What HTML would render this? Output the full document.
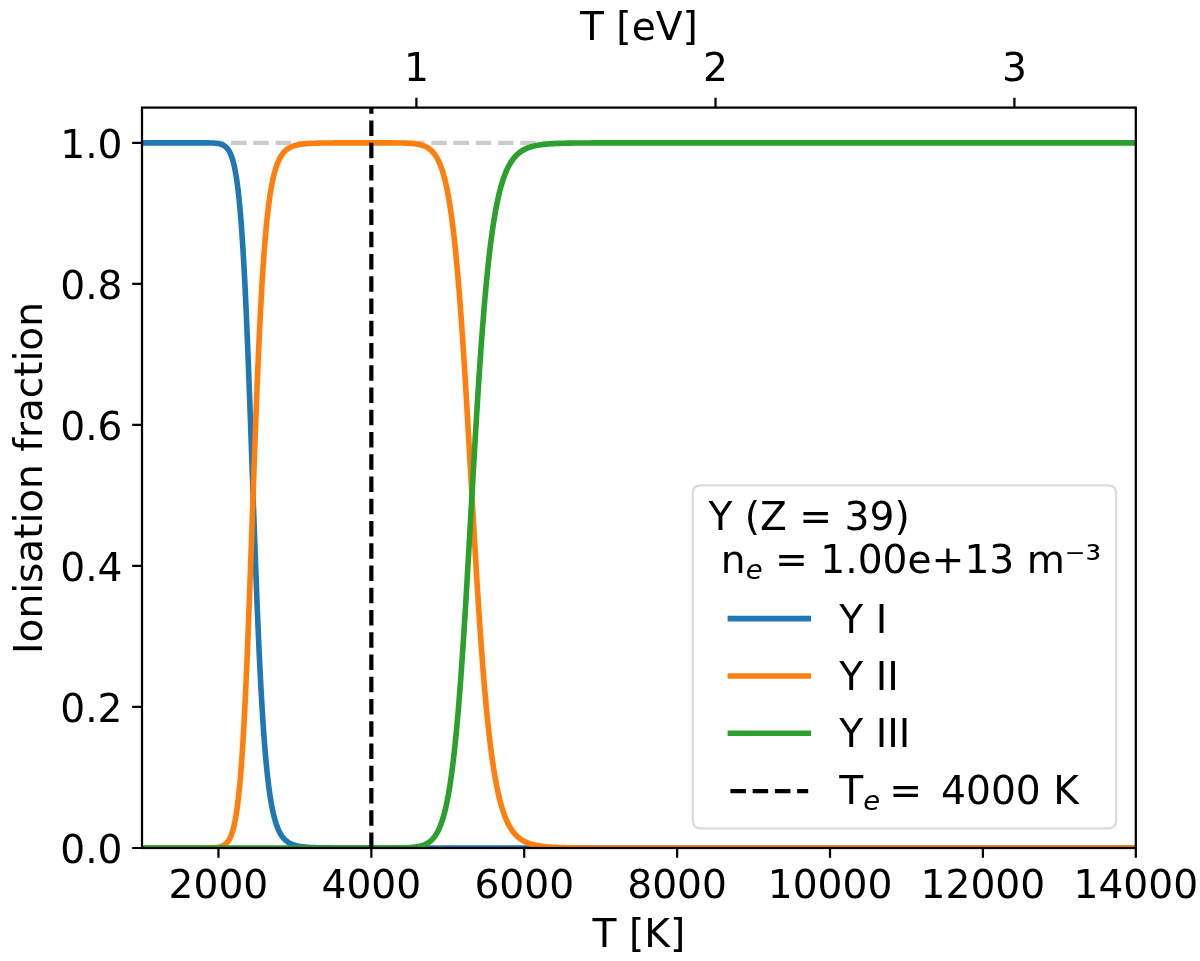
<!DOCTYPE html>
<html lang="en"><head><meta charset="utf-8"><title>Ionisation fraction of Y</title>
<style>html,body{margin:0;padding:0;background:#fff;}svg{display:block;}text{font-family:'DejaVu Sans','Liberation Sans',sans-serif;fill:#000;}</style></head><body>
<svg width="1200" height="961" viewBox="0 0 1200 961">
<rect width="1200" height="961" fill="#fff"/>
<defs><clipPath id="ax"><rect x="142.00" y="107.60" width="993.80" height="740.40"/></clipPath></defs>
<g clip-path="url(#ax)" fill="none" stroke-linejoin="round">
<path d="M142.00,142.86 L1135.80,142.86" stroke="#cbcbcb" stroke-width="4.20" stroke-dasharray="15.53 6.72"/>
<path d="M142.00,142.86 L142.38,142.86 L142.76,142.86 L143.15,142.86 L143.53,142.86 L143.91,142.86 L144.29,142.86 L144.68,142.86 L145.06,142.86 L145.44,142.86 L145.82,142.86 L146.20,142.86 L146.59,142.86 L146.97,142.86 L147.35,142.86 L147.73,142.86 L148.12,142.86 L148.50,142.86 L148.88,142.86 L149.26,142.86 L149.64,142.86 L150.03,142.86 L150.41,142.86 L150.79,142.86 L151.17,142.86 L151.56,142.86 L151.94,142.86 L152.32,142.86 L152.70,142.86 L153.08,142.86 L153.47,142.86 L153.85,142.86 L154.23,142.86 L154.61,142.86 L155.00,142.86 L155.38,142.86 L155.76,142.86 L156.14,142.86 L156.52,142.86 L156.91,142.86 L157.29,142.86 L157.67,142.86 L158.05,142.86 L158.44,142.86 L158.82,142.86 L159.20,142.86 L159.58,142.86 L159.96,142.86 L160.35,142.86 L160.73,142.86 L161.11,142.86 L161.49,142.86 L161.88,142.86 L162.26,142.86 L162.64,142.86 L163.02,142.86 L163.40,142.86 L163.79,142.86 L164.17,142.86 L164.55,142.86 L164.93,142.86 L165.32,142.86 L165.70,142.86 L166.08,142.86 L166.46,142.86 L166.84,142.86 L167.23,142.86 L167.61,142.86 L167.99,142.86 L168.37,142.86 L168.76,142.86 L169.14,142.86 L169.52,142.86 L169.90,142.86 L170.29,142.86 L170.67,142.86 L171.05,142.86 L171.43,142.86 L171.81,142.86 L172.20,142.86 L172.58,142.86 L172.96,142.86 L173.34,142.86 L173.73,142.86 L174.11,142.86 L174.49,142.86 L174.87,142.86 L175.25,142.86 L175.64,142.86 L176.02,142.86 L176.40,142.86 L176.78,142.86 L177.17,142.86 L177.55,142.86 L177.93,142.86 L178.31,142.86 L178.69,142.86 L179.08,142.86 L179.46,142.86 L179.84,142.86 L180.22,142.86 L180.61,142.86 L180.99,142.86 L181.37,142.86 L181.75,142.86 L182.13,142.86 L182.52,142.86 L182.90,142.86 L183.28,142.86 L183.66,142.86 L184.05,142.86 L184.43,142.86 L184.81,142.86 L185.19,142.86 L185.57,142.86 L185.96,142.86 L186.34,142.86 L186.72,142.86 L187.10,142.86 L187.49,142.86 L187.87,142.86 L188.25,142.86 L188.63,142.86 L189.01,142.86 L189.40,142.86 L189.78,142.86 L190.16,142.86 L190.54,142.86 L190.93,142.86 L191.31,142.86 L191.69,142.86 L192.07,142.86 L192.45,142.86 L192.84,142.86 L193.22,142.86 L193.60,142.86 L193.98,142.86 L194.37,142.86 L194.75,142.86 L195.13,142.86 L195.51,142.86 L195.89,142.86 L196.28,142.86 L196.66,142.86 L197.04,142.86 L197.42,142.86 L197.81,142.86 L198.19,142.86 L198.57,142.86 L198.95,142.86 L199.33,142.86 L199.72,142.86 L200.10,142.86 L200.48,142.86 L200.86,142.86 L201.25,142.86 L201.63,142.87 L202.01,142.87 L202.39,142.87 L202.77,142.87 L203.16,142.87 L203.54,142.87 L203.92,142.87 L204.30,142.87 L204.69,142.88 L205.07,142.88 L205.45,142.88 L205.83,142.88 L206.21,142.89 L206.60,142.89 L206.98,142.90 L207.36,142.90 L207.74,142.90 L208.13,142.91 L208.51,142.92 L208.89,142.92 L209.27,142.93 L209.65,142.94 L210.04,142.95 L210.42,142.95 L210.80,142.97 L211.18,142.98 L211.57,142.99 L211.95,143.00 L212.33,143.02 L212.71,143.04 L213.09,143.05 L213.48,143.08 L213.86,143.10 L214.24,143.12 L214.62,143.15 L215.01,143.18 L215.39,143.21 L215.77,143.25 L216.15,143.29 L216.53,143.33 L216.92,143.38 L217.30,143.43 L217.68,143.48 L218.06,143.54 L218.45,143.61 L218.83,143.68 L219.21,143.76 L219.59,143.85 L219.98,143.94 L220.36,144.04 L220.74,144.15 L221.12,144.27 L221.50,144.41 L221.89,144.55 L222.27,144.70 L222.65,144.87 L223.03,145.06 L223.42,145.26 L223.80,145.47 L224.18,145.70 L224.56,145.96 L224.94,146.23 L225.33,146.53 L225.71,146.85 L226.09,147.20 L226.47,147.58 L226.86,147.98 L227.24,148.42 L227.62,148.90 L228.00,149.41 L228.38,149.96 L228.77,150.55 L229.15,151.20 L229.53,151.89 L229.91,152.63 L230.30,153.43 L230.68,154.29 L231.06,155.22 L231.44,156.21 L231.82,157.28 L232.21,158.43 L232.59,159.65 L232.97,160.97 L233.35,162.38 L233.74,163.89 L234.12,165.51 L234.50,167.24 L234.88,169.08 L235.26,171.05 L235.65,173.15 L236.03,175.40 L236.41,177.78 L236.79,180.33 L237.18,183.03 L237.56,185.90 L237.94,188.95 L238.32,192.19 L238.70,195.62 L239.09,199.25 L239.47,203.09 L239.85,207.15 L240.23,211.44 L240.62,215.95 L241.00,220.71 L241.38,225.72 L241.76,230.97 L242.14,236.49 L242.53,242.28 L242.91,248.33 L243.29,254.65 L243.67,261.25 L244.06,268.13 L244.44,275.29 L244.82,282.73 L245.20,290.44 L245.58,298.43 L245.97,306.69 L246.35,315.21 L246.73,323.99 L247.11,333.02 L247.50,342.30 L247.88,351.80 L248.26,361.51 L248.64,371.43 L249.02,381.54 L249.41,391.82 L249.79,402.25 L250.17,412.82 L250.55,423.50 L250.94,434.28 L251.32,445.13 L251.70,456.04 L252.08,466.98 L252.46,477.93 L252.85,488.88 L253.23,499.79 L253.61,510.65 L253.99,521.44 L254.38,532.13 L254.76,542.72 L255.14,553.18 L255.52,563.50 L255.90,573.66 L256.29,583.64 L256.67,593.44 L257.05,603.04 L257.43,612.43 L257.82,621.60 L258.20,630.54 L258.58,639.25 L258.96,647.73 L259.34,655.96 L259.73,663.95 L260.11,671.69 L260.49,679.18 L260.87,686.42 L261.26,693.42 L261.64,700.17 L262.02,706.67 L262.40,712.94 L262.78,718.97 L263.17,724.76 L263.55,730.33 L263.93,735.68 L264.31,740.81 L264.70,745.72 L265.08,750.43 L265.46,754.94 L265.84,759.26 L266.23,763.39 L266.61,767.34 L266.99,771.11 L267.37,774.71 L267.75,778.15 L268.14,781.44 L268.52,784.57 L268.90,787.56 L269.28,790.42 L269.67,793.13 L270.05,795.73 L270.43,798.19 L270.81,800.55 L271.19,802.79 L271.58,804.92 L271.96,806.96 L272.34,808.89 L272.72,810.74 L273.11,812.49 L273.49,814.16 L273.87,815.75 L274.25,817.27 L274.63,818.71 L275.02,820.08 L275.40,821.38 L275.78,822.63 L276.16,823.81 L276.55,824.93 L276.93,826.00 L277.31,827.02 L277.69,827.99 L278.07,828.92 L278.46,829.79 L278.84,830.63 L279.22,831.43 L279.60,832.18 L279.99,832.91 L280.37,833.59 L280.75,834.25 L281.13,834.87 L281.51,835.46 L281.90,836.03 L282.28,836.57 L282.66,837.08 L283.04,837.57 L283.43,838.03 L283.81,838.48 L284.19,838.90 L284.57,839.30 L284.95,839.68 L285.34,840.05 L285.72,840.40 L286.10,840.73 L286.48,841.05 L286.87,841.35 L287.25,841.64 L287.63,841.91 L288.01,842.18 L288.39,842.43 L288.78,842.67 L289.16,842.89 L289.54,843.11 L289.92,843.32 L290.31,843.52 L290.69,843.71 L291.07,843.89 L291.45,844.06 L291.83,844.23 L292.22,844.38 L292.60,844.53 L292.98,844.68 L293.36,844.81 L293.75,844.95 L294.13,845.07 L294.51,845.19 L294.89,845.31 L295.27,845.42 L295.66,845.52 L296.04,845.62 L296.42,845.72 L296.80,845.81 L297.19,845.90 L297.57,845.98 L297.95,846.06 L298.33,846.14 L298.71,846.21 L299.10,846.28 L299.48,846.35 L299.86,846.42 L300.24,846.48 L300.63,846.54 L301.01,846.59 L301.39,846.65 L301.77,846.70 L302.15,846.75 L302.54,846.80 L302.92,846.85 L303.30,846.89 L303.68,846.93 L304.07,846.97 L304.45,847.01 L304.83,847.05 L305.21,847.08 L305.59,847.12 L305.98,847.15 L306.36,847.18 L306.74,847.21 L307.12,847.24 L307.51,847.27 L307.89,847.30 L308.27,847.32 L308.65,847.35 L309.03,847.37 L309.42,847.40 L309.80,847.42 L310.18,847.44 L310.56,847.46 L310.95,847.48 L311.33,847.50 L311.71,847.52 L312.09,847.53 L312.47,847.55 L312.86,847.57 L313.24,847.58 L313.62,847.60 L314.00,847.61 L314.39,847.62 L314.77,847.64 L315.15,847.65 L315.53,847.66 L315.91,847.67 L316.30,847.68 L316.68,847.70 L317.06,847.71 L317.44,847.72 L317.83,847.73 L318.21,847.74 L318.59,847.74 L318.97,847.75 L319.36,847.76 L319.74,847.77 L320.12,847.78 L320.50,847.78 L320.88,847.79 L321.27,847.80 L321.65,847.81 L322.03,847.81 L322.41,847.82 L322.80,847.82 L323.18,847.83 L323.56,847.84 L323.94,847.84 L324.32,847.85 L324.71,847.85 L325.09,847.86 L325.47,847.86 L325.85,847.86 L326.24,847.87 L326.62,847.87 L327.00,847.88 L327.38,847.88 L327.76,847.89 L328.15,847.89 L328.53,847.89 L328.91,847.90 L329.29,847.90 L329.68,847.90 L330.06,847.91 L330.44,847.91 L330.82,847.91 L331.20,847.91 L331.59,847.92 L331.97,847.92 L332.35,847.92 L332.73,847.92 L333.12,847.93 L333.50,847.93 L333.88,847.93 L334.26,847.93 L334.64,847.93 L335.03,847.94 L335.41,847.94 L335.79,847.94 L336.17,847.94 L336.56,847.94 L336.94,847.95 L337.32,847.95 L337.70,847.95 L338.08,847.95 L338.47,847.95 L338.85,847.95 L339.23,847.95 L339.61,847.96 L340.00,847.96 L340.38,847.96 L340.76,847.96 L341.14,847.96 L341.52,847.96 L341.91,847.96 L342.29,847.96 L342.67,847.97 L343.05,847.97 L343.44,847.97 L343.82,847.97 L344.20,847.97 L344.58,847.97 L344.96,847.97 L345.35,847.97 L345.73,847.97 L346.11,847.97 L346.49,847.97 L346.88,847.97 L347.26,847.98 L347.64,847.98 L348.02,847.98 L348.40,847.98 L348.79,847.98 L349.17,847.98 L349.55,847.98 L349.93,847.98 L350.32,847.98 L350.70,847.98 L351.08,847.98 L351.46,847.98 L351.84,847.98 L352.23,847.98 L352.61,847.98 L352.99,847.98 L353.37,847.98 L353.76,847.98 L354.14,847.98 L354.52,847.99 L354.90,847.99 L355.28,847.99 L355.67,847.99 L356.05,847.99 L356.43,847.99 L356.81,847.99 L357.20,847.99 L357.58,847.99 L357.96,847.99 L358.34,847.99 L358.72,847.99 L359.11,847.99 L359.49,847.99 L359.87,847.99 L360.25,847.99 L360.64,847.99 L361.02,847.99 L361.40,847.99 L361.78,847.99 L362.16,847.99 L362.55,847.99 L362.93,847.99 L363.31,847.99 L363.69,847.99 L364.08,847.99 L364.46,847.99 L364.84,847.99 L365.22,847.99 L365.61,847.99 L365.99,847.99 L366.37,847.99 L366.75,847.99 L367.13,847.99 L367.52,847.99 L367.90,847.99 L368.28,847.99 L368.66,847.99 L369.05,847.99 L369.43,847.99 L369.81,847.99 L370.19,847.99 L370.57,847.99 L370.96,848.00 L371.34,848.00 L371.72,848.00 L372.10,848.00 L372.49,848.00 L372.87,848.00 L373.25,848.00 L373.63,848.00 L374.01,848.00 L374.40,848.00 L374.78,848.00 L375.16,848.00 L375.54,848.00 L375.93,848.00 L376.31,848.00 L376.69,848.00 L377.07,848.00 L377.45,848.00 L377.84,848.00 L378.22,848.00 L378.60,848.00 L378.98,848.00 L379.37,848.00 L379.75,848.00 L380.13,848.00 L380.51,848.00 L380.89,848.00 L381.28,848.00 L381.66,848.00 L382.04,848.00 L382.42,848.00 L382.81,848.00 L383.19,848.00 L383.57,848.00 L383.95,848.00 L384.33,848.00 L384.72,848.00 L385.10,848.00 L385.48,848.00 L385.86,848.00 L386.25,848.00 L386.63,848.00 L387.01,848.00 L387.39,848.00 L387.77,848.00 L388.16,848.00 L388.54,848.00 L388.92,848.00 L389.30,848.00 L389.69,848.00 L390.07,848.00 L390.45,848.00 L390.83,848.00 L391.21,848.00 L391.60,848.00 L391.98,848.00 L392.36,848.00 L392.74,848.00 L393.13,848.00 L393.51,848.00 L393.89,848.00 L394.27,848.00 L394.65,848.00 L395.04,848.00 L395.42,848.00 L395.80,848.00 L396.18,848.00 L396.57,848.00 L396.95,848.00 L397.33,848.00 L397.71,848.00 L398.09,848.00 L398.48,848.00 L398.86,848.00 L399.24,848.00 L399.62,848.00 L400.01,848.00 L400.39,848.00 L400.77,848.00 L401.15,848.00 L401.53,848.00 L401.92,848.00 L402.30,848.00 L402.68,848.00 L403.06,848.00 L403.45,848.00 L403.83,848.00 L404.21,848.00 L404.59,848.00 L404.97,848.00 L405.36,848.00 L405.74,848.00 L406.12,848.00 L406.50,848.00 L406.89,848.00 L407.27,848.00 L407.65,848.00 L408.03,848.00 L408.41,848.00 L408.80,848.00 L409.18,848.00 L409.56,848.00 L409.94,848.00 L410.33,848.00 L410.71,848.00 L411.09,848.00 L411.47,848.00 L411.85,848.00 L412.24,848.00 L412.62,848.00 L413.00,848.00 L413.38,848.00 L413.77,848.00 L414.15,848.00 L414.53,848.00 L414.91,848.00 L415.30,848.00 L415.68,848.00 L416.06,848.00 L416.44,848.00 L416.82,848.00 L417.21,848.00 L417.59,848.00 L417.97,848.00 L418.35,848.00 L418.74,848.00 L419.12,848.00 L419.50,848.00 L419.88,848.00 L420.26,848.00 L420.65,848.00 L421.03,848.00 L421.41,848.00 L421.79,848.00 L422.18,848.00 L422.56,848.00 L422.94,848.00 L423.32,848.00 L423.70,848.00 L424.09,848.00 L424.47,848.00 L424.85,848.00 L425.23,848.00 L425.62,848.00 L426.00,848.00 L426.38,848.00 L426.76,848.00 L427.14,848.00 L427.53,848.00 L427.91,848.00 L428.29,848.00 L428.67,848.00 L429.06,848.00 L429.44,848.00 L429.82,848.00 L430.20,848.00 L430.58,848.00 L430.97,848.00 L431.35,848.00 L431.73,848.00 L432.11,848.00 L432.50,848.00 L432.88,848.00 L433.26,848.00 L433.64,848.00 L434.02,848.00 L434.41,848.00 L434.79,848.00 L435.17,848.00 L435.55,848.00 L435.94,848.00 L436.32,848.00 L436.70,848.00 L437.08,848.00 L437.46,848.00 L437.85,848.00 L438.23,848.00 L438.61,848.00 L438.99,848.00 L439.38,848.00 L439.76,848.00 L440.14,848.00 L440.52,848.00 L440.90,848.00 L441.29,848.00 L441.67,848.00 L442.05,848.00 L442.43,848.00 L442.82,848.00 L443.20,848.00 L443.58,848.00 L443.96,848.00 L444.34,848.00 L444.73,848.00 L445.11,848.00 L445.49,848.00 L445.87,848.00 L446.26,848.00 L446.64,848.00 L447.02,848.00 L447.40,848.00 L447.78,848.00 L448.17,848.00 L448.55,848.00 L448.93,848.00 L449.31,848.00 L449.70,848.00 L450.08,848.00 L450.46,848.00 L450.84,848.00 L451.22,848.00 L451.61,848.00 L451.99,848.00 L452.37,848.00 L452.75,848.00 L453.14,848.00 L453.52,848.00 L453.90,848.00 L454.28,848.00 L454.66,848.00 L455.05,848.00 L455.43,848.00 L455.81,848.00 L456.19,848.00 L456.58,848.00 L456.96,848.00 L457.34,848.00 L457.72,848.00 L458.10,848.00 L458.49,848.00 L458.87,848.00 L459.25,848.00 L459.63,848.00 L460.02,848.00 L460.40,848.00 L460.78,848.00 L461.16,848.00 L461.54,848.00 L461.93,848.00 L462.31,848.00 L462.69,848.00 L463.07,848.00 L463.46,848.00 L463.84,848.00 L464.22,848.00 L464.60,848.00 L464.99,848.00 L465.37,848.00 L465.75,848.00 L466.13,848.00 L466.51,848.00 L466.90,848.00 L467.28,848.00 L467.66,848.00 L468.04,848.00 L468.43,848.00 L468.81,848.00 L469.19,848.00 L469.57,848.00 L469.95,848.00 L470.34,848.00 L470.72,848.00 L471.10,848.00 L471.48,848.00 L471.87,848.00 L472.25,848.00 L472.63,848.00 L473.01,848.00 L473.39,848.00 L473.78,848.00 L474.16,848.00 L474.54,848.00 L474.92,848.00 L475.31,848.00 L475.69,848.00 L476.07,848.00 L476.45,848.00 L476.83,848.00 L477.22,848.00 L477.60,848.00 L477.98,848.00 L478.36,848.00 L478.75,848.00 L479.13,848.00 L479.51,848.00 L479.89,848.00 L480.27,848.00 L480.66,848.00 L481.04,848.00 L481.42,848.00 L481.80,848.00 L482.19,848.00 L482.57,848.00 L482.95,848.00 L483.33,848.00 L483.71,848.00 L484.10,848.00 L484.48,848.00 L484.86,848.00 L485.24,848.00 L485.63,848.00 L486.01,848.00 L486.39,848.00 L486.77,848.00 L487.15,848.00 L487.54,848.00 L487.92,848.00 L488.30,848.00 L488.68,848.00 L489.07,848.00 L489.45,848.00 L489.83,848.00 L490.21,848.00 L490.59,848.00 L490.98,848.00 L491.36,848.00 L491.74,848.00 L492.12,848.00 L492.51,848.00 L492.89,848.00 L493.27,848.00 L493.65,848.00 L494.03,848.00 L494.42,848.00 L494.80,848.00 L495.18,848.00 L495.56,848.00 L495.95,848.00 L496.33,848.00 L496.71,848.00 L497.09,848.00 L497.47,848.00 L497.86,848.00 L498.24,848.00 L498.62,848.00 L499.00,848.00 L499.39,848.00 L499.77,848.00 L500.15,848.00 L500.53,848.00 L500.91,848.00 L501.30,848.00 L501.68,848.00 L502.06,848.00 L502.44,848.00 L502.83,848.00 L503.21,848.00 L503.59,848.00 L503.97,848.00 L504.35,848.00 L504.74,848.00 L505.12,848.00 L505.50,848.00 L505.88,848.00 L506.27,848.00 L506.65,848.00 L507.03,848.00 L507.41,848.00 L507.79,848.00 L508.18,848.00 L508.56,848.00 L508.94,848.00 L509.32,848.00 L509.71,848.00 L510.09,848.00 L510.47,848.00 L510.85,848.00 L511.23,848.00 L511.62,848.00 L512.00,848.00 L512.38,848.00 L512.76,848.00 L513.15,848.00 L513.53,848.00 L513.91,848.00 L514.29,848.00 L514.67,848.00 L515.06,848.00 L515.44,848.00 L515.82,848.00 L516.20,848.00 L516.59,848.00 L516.97,848.00 L517.35,848.00 L517.73,848.00 L518.12,848.00 L518.50,848.00 L518.88,848.00 L519.26,848.00 L519.64,848.00 L520.03,848.00 L520.41,848.00 L520.79,848.00 L521.17,848.00 L521.56,848.00 L521.94,848.00 L522.32,848.00 L522.70,848.00 L523.08,848.00 L523.47,848.00 L523.85,848.00 L524.23,848.00 L524.61,848.00 L525.00,848.00 L525.38,848.00 L525.76,848.00 L526.14,848.00 L526.52,848.00 L526.91,848.00 L527.29,848.00 L527.67,848.00 L528.05,848.00 L528.44,848.00 L528.82,848.00 L529.20,848.00 L529.58,848.00 L529.96,848.00 L530.35,848.00 L530.73,848.00 L531.11,848.00 L531.49,848.00 L531.88,848.00 L532.26,848.00 L532.64,848.00 L533.02,848.00 L533.40,848.00 L533.79,848.00 L534.17,848.00 L534.55,848.00 L534.93,848.00 L535.32,848.00 L535.70,848.00 L536.08,848.00 L536.46,848.00 L536.84,848.00 L537.23,848.00 L537.61,848.00 L537.99,848.00 L538.37,848.00 L538.76,848.00 L539.14,848.00 L539.52,848.00 L539.90,848.00 L540.28,848.00 L540.67,848.00 L541.05,848.00 L541.43,848.00 L541.81,848.00 L542.20,848.00 L542.58,848.00 L542.96,848.00 L543.34,848.00 L543.72,848.00 L544.11,848.00 L544.49,848.00 L544.87,848.00 L545.25,848.00 L545.64,848.00 L546.02,848.00 L546.40,848.00 L546.78,848.00 L547.16,848.00 L547.55,848.00 L547.93,848.00 L548.31,848.00 L548.69,848.00 L549.08,848.00 L549.46,848.00 L549.84,848.00 L550.22,848.00 L550.60,848.00 L550.99,848.00 L551.37,848.00 L551.75,848.00 L552.13,848.00 L552.52,848.00 L552.90,848.00 L553.28,848.00 L553.66,848.00 L554.04,848.00 L554.43,848.00 L554.81,848.00 L555.19,848.00 L555.57,848.00 L555.96,848.00 L556.34,848.00 L556.72,848.00 L557.10,848.00 L557.48,848.00 L557.87,848.00 L558.25,848.00 L558.63,848.00 L559.01,848.00 L559.40,848.00 L559.78,848.00 L560.16,848.00 L560.54,848.00 L560.92,848.00 L561.31,848.00 L561.69,848.00 L562.07,848.00 L562.45,848.00 L562.84,848.00 L563.22,848.00 L563.60,848.00 L563.98,848.00 L564.37,848.00 L564.75,848.00 L565.13,848.00 L565.51,848.00 L565.89,848.00 L566.28,848.00 L566.66,848.00 L567.04,848.00 L567.42,848.00 L567.81,848.00 L568.19,848.00 L568.57,848.00 L568.95,848.00 L569.33,848.00 L569.72,848.00 L570.10,848.00 L570.48,848.00 L570.86,848.00 L571.25,848.00 L571.63,848.00 L572.01,848.00 L572.39,848.00 L572.77,848.00 L573.16,848.00 L573.54,848.00 L573.92,848.00 L574.30,848.00 L574.69,848.00 L575.07,848.00 L575.45,848.00 L575.83,848.00 L576.21,848.00 L576.60,848.00 L576.98,848.00 L577.36,848.00 L577.74,848.00 L578.13,848.00 L578.51,848.00 L578.89,848.00 L579.27,848.00 L579.65,848.00 L580.04,848.00 L580.42,848.00 L580.80,848.00 L581.18,848.00 L581.57,848.00 L581.95,848.00 L582.33,848.00 L582.71,848.00 L583.09,848.00 L583.48,848.00 L583.86,848.00 L584.24,848.00 L584.62,848.00 L585.01,848.00 L585.39,848.00 L585.77,848.00 L586.15,848.00 L586.53,848.00 L586.92,848.00 L587.30,848.00 L587.68,848.00 L588.06,848.00 L588.45,848.00 L588.83,848.00 L589.21,848.00 L589.59,848.00 L589.97,848.00 L590.36,848.00 L590.74,848.00 L591.12,848.00 L591.50,848.00 L591.89,848.00 L592.27,848.00 L592.65,848.00 L593.03,848.00 L593.41,848.00 L593.80,848.00 L594.18,848.00 L594.56,848.00 L594.94,848.00 L595.33,848.00 L595.71,848.00 L596.09,848.00 L596.47,848.00 L596.85,848.00 L597.24,848.00 L597.62,848.00 L598.00,848.00 L598.38,848.00 L598.77,848.00 L599.15,848.00 L599.53,848.00 L599.91,848.00 L600.29,848.00 L600.68,848.00 L601.06,848.00 L601.44,848.00 L601.82,848.00 L602.21,848.00 L602.59,848.00 L602.97,848.00 L603.35,848.00 L603.73,848.00 L604.12,848.00 L604.50,848.00 L604.88,848.00 L605.26,848.00 L605.65,848.00 L606.03,848.00 L606.41,848.00 L606.79,848.00 L607.17,848.00 L607.56,848.00 L607.94,848.00 L608.32,848.00 L608.70,848.00 L609.09,848.00 L609.47,848.00 L609.85,848.00 L610.23,848.00 L610.61,848.00 L611.00,848.00 L611.38,848.00 L611.76,848.00 L612.14,848.00 L612.53,848.00 L612.91,848.00 L613.29,848.00 L613.67,848.00 L614.06,848.00 L614.44,848.00 L614.82,848.00 L615.20,848.00 L615.58,848.00 L615.97,848.00 L616.35,848.00 L616.73,848.00 L617.11,848.00 L617.50,848.00 L617.88,848.00 L618.26,848.00 L618.64,848.00 L619.02,848.00 L619.41,848.00 L619.79,848.00 L620.17,848.00 L620.55,848.00 L620.94,848.00 L621.32,848.00 L621.70,848.00 L622.08,848.00 L622.46,848.00 L622.85,848.00 L623.23,848.00 L623.61,848.00 L623.99,848.00 L624.38,848.00 L624.76,848.00 L625.14,848.00 L625.52,848.00 L625.90,848.00 L626.29,848.00 L626.67,848.00 L627.05,848.00 L627.43,848.00 L627.82,848.00 L628.20,848.00 L628.58,848.00 L628.96,848.00 L629.34,848.00 L629.73,848.00 L630.11,848.00 L630.49,848.00 L630.87,848.00 L631.26,848.00 L631.64,848.00 L632.02,848.00 L632.40,848.00 L632.78,848.00 L633.17,848.00 L633.55,848.00 L633.93,848.00 L634.31,848.00 L634.70,848.00 L635.08,848.00 L635.46,848.00 L635.84,848.00 L636.22,848.00 L636.61,848.00 L636.99,848.00 L637.37,848.00 L637.75,848.00 L638.14,848.00 L638.52,848.00 L638.90,848.00 L640.43,848.00 L644.59,848.00 L648.75,848.00 L652.92,848.00 L657.08,848.00 L661.24,848.00 L665.41,848.00 L669.57,848.00 L673.73,848.00 L677.89,848.00 L682.06,848.00 L686.22,848.00 L690.38,848.00 L694.55,848.00 L698.71,848.00 L702.87,848.00 L707.03,848.00 L711.20,848.00 L715.36,848.00 L719.52,848.00 L723.68,848.00 L727.85,848.00 L732.01,848.00 L736.17,848.00 L740.34,848.00 L744.50,848.00 L748.66,848.00 L752.82,848.00 L756.99,848.00 L761.15,848.00 L765.31,848.00 L769.48,848.00 L773.64,848.00 L777.80,848.00 L781.96,848.00 L786.13,848.00 L790.29,848.00 L794.45,848.00 L798.61,848.00 L802.78,848.00 L806.94,848.00 L811.10,848.00 L815.27,848.00 L819.43,848.00 L823.59,848.00 L827.75,848.00 L831.92,848.00 L836.08,848.00 L840.24,848.00 L844.41,848.00 L848.57,848.00 L852.73,848.00 L856.89,848.00 L861.06,848.00 L865.22,848.00 L869.38,848.00 L873.54,848.00 L877.71,848.00 L881.87,848.00 L886.03,848.00 L890.20,848.00 L894.36,848.00 L898.52,848.00 L902.68,848.00 L906.85,848.00 L911.01,848.00 L915.17,848.00 L919.34,848.00 L923.50,848.00 L927.66,848.00 L931.82,848.00 L935.99,848.00 L940.15,848.00 L944.31,848.00 L948.47,848.00 L952.64,848.00 L956.80,848.00 L960.96,848.00 L965.13,848.00 L969.29,848.00 L973.45,848.00 L977.61,848.00 L981.78,848.00 L985.94,848.00 L990.10,848.00 L994.27,848.00 L998.43,848.00 L1002.59,848.00 L1006.75,848.00 L1010.92,848.00 L1015.08,848.00 L1019.24,848.00 L1023.40,848.00 L1027.57,848.00 L1031.73,848.00 L1035.89,848.00 L1040.06,848.00 L1044.22,848.00 L1048.38,848.00 L1052.54,848.00 L1056.71,848.00 L1060.87,848.00 L1065.03,848.00 L1069.20,848.00 L1073.36,848.00 L1077.52,848.00 L1081.68,848.00 L1085.85,848.00 L1090.01,848.00 L1094.17,848.00 L1098.33,848.00 L1102.50,848.00 L1106.66,848.00 L1110.82,848.00 L1114.99,848.00 L1119.15,848.00 L1123.31,848.00 L1127.47,848.00 L1131.64,848.00 L1135.80,848.00" stroke="#1f77b4" stroke-width="5.60" stroke-linecap="square"/>
<path d="M142.00,848.00 L142.38,848.00 L142.76,848.00 L143.15,848.00 L143.53,848.00 L143.91,848.00 L144.29,848.00 L144.68,848.00 L145.06,848.00 L145.44,848.00 L145.82,848.00 L146.20,848.00 L146.59,848.00 L146.97,848.00 L147.35,848.00 L147.73,848.00 L148.12,848.00 L148.50,848.00 L148.88,848.00 L149.26,848.00 L149.64,848.00 L150.03,848.00 L150.41,848.00 L150.79,848.00 L151.17,848.00 L151.56,848.00 L151.94,848.00 L152.32,848.00 L152.70,848.00 L153.08,848.00 L153.47,848.00 L153.85,848.00 L154.23,848.00 L154.61,848.00 L155.00,848.00 L155.38,848.00 L155.76,848.00 L156.14,848.00 L156.52,848.00 L156.91,848.00 L157.29,848.00 L157.67,848.00 L158.05,848.00 L158.44,848.00 L158.82,848.00 L159.20,848.00 L159.58,848.00 L159.96,848.00 L160.35,848.00 L160.73,848.00 L161.11,848.00 L161.49,848.00 L161.88,848.00 L162.26,848.00 L162.64,848.00 L163.02,848.00 L163.40,848.00 L163.79,848.00 L164.17,848.00 L164.55,848.00 L164.93,848.00 L165.32,848.00 L165.70,848.00 L166.08,848.00 L166.46,848.00 L166.84,848.00 L167.23,848.00 L167.61,848.00 L167.99,848.00 L168.37,848.00 L168.76,848.00 L169.14,848.00 L169.52,848.00 L169.90,848.00 L170.29,848.00 L170.67,848.00 L171.05,848.00 L171.43,848.00 L171.81,848.00 L172.20,848.00 L172.58,848.00 L172.96,848.00 L173.34,848.00 L173.73,848.00 L174.11,848.00 L174.49,848.00 L174.87,848.00 L175.25,848.00 L175.64,848.00 L176.02,848.00 L176.40,848.00 L176.78,848.00 L177.17,848.00 L177.55,848.00 L177.93,848.00 L178.31,848.00 L178.69,848.00 L179.08,848.00 L179.46,848.00 L179.84,848.00 L180.22,848.00 L180.61,848.00 L180.99,848.00 L181.37,848.00 L181.75,848.00 L182.13,848.00 L182.52,848.00 L182.90,848.00 L183.28,848.00 L183.66,848.00 L184.05,848.00 L184.43,848.00 L184.81,848.00 L185.19,848.00 L185.57,848.00 L185.96,848.00 L186.34,848.00 L186.72,848.00 L187.10,848.00 L187.49,848.00 L187.87,848.00 L188.25,848.00 L188.63,848.00 L189.01,848.00 L189.40,848.00 L189.78,848.00 L190.16,848.00 L190.54,848.00 L190.93,848.00 L191.31,848.00 L191.69,848.00 L192.07,848.00 L192.45,848.00 L192.84,848.00 L193.22,848.00 L193.60,848.00 L193.98,848.00 L194.37,848.00 L194.75,848.00 L195.13,848.00 L195.51,848.00 L195.89,848.00 L196.28,848.00 L196.66,848.00 L197.04,848.00 L197.42,848.00 L197.81,848.00 L198.19,848.00 L198.57,848.00 L198.95,848.00 L199.33,848.00 L199.72,848.00 L200.10,848.00 L200.48,847.99 L200.86,847.99 L201.25,847.99 L201.63,847.99 L202.01,847.99 L202.39,847.99 L202.77,847.99 L203.16,847.99 L203.54,847.99 L203.92,847.98 L204.30,847.98 L204.69,847.98 L205.07,847.98 L205.45,847.98 L205.83,847.97 L206.21,847.97 L206.60,847.97 L206.98,847.96 L207.36,847.96 L207.74,847.95 L208.13,847.95 L208.51,847.94 L208.89,847.94 L209.27,847.93 L209.65,847.92 L210.04,847.91 L210.42,847.90 L210.80,847.89 L211.18,847.88 L211.57,847.87 L211.95,847.85 L212.33,847.84 L212.71,847.82 L213.09,847.80 L213.48,847.78 L213.86,847.76 L214.24,847.73 L214.62,847.71 L215.01,847.68 L215.39,847.65 L215.77,847.61 L216.15,847.57 L216.53,847.53 L216.92,847.48 L217.30,847.43 L217.68,847.38 L218.06,847.31 L218.45,847.25 L218.83,847.18 L219.21,847.10 L219.59,847.01 L219.98,846.92 L220.36,846.81 L220.74,846.70 L221.12,846.58 L221.50,846.45 L221.89,846.31 L222.27,846.15 L222.65,845.98 L223.03,845.80 L223.42,845.60 L223.80,845.39 L224.18,845.15 L224.56,844.90 L224.94,844.62 L225.33,844.33 L225.71,844.01 L226.09,843.66 L226.47,843.28 L226.86,842.88 L227.24,842.44 L227.62,841.96 L228.00,841.45 L228.38,840.90 L228.77,840.30 L229.15,839.66 L229.53,838.97 L229.91,838.23 L230.30,837.42 L230.68,836.56 L231.06,835.64 L231.44,834.64 L231.82,833.58 L232.21,832.43 L232.59,831.20 L232.97,829.89 L233.35,828.47 L233.74,826.96 L234.12,825.35 L234.50,823.62 L234.88,821.78 L235.26,819.80 L235.65,817.70 L236.03,815.46 L236.41,813.07 L236.79,810.53 L237.18,807.83 L237.56,804.95 L237.94,801.90 L238.32,798.67 L238.70,795.24 L239.09,791.61 L239.47,787.77 L239.85,783.71 L240.23,779.42 L240.62,774.90 L241.00,770.15 L241.38,765.14 L241.76,759.88 L242.14,754.36 L242.53,748.58 L242.91,742.53 L243.29,736.20 L243.67,729.60 L244.06,722.72 L244.44,715.57 L244.82,708.13 L245.20,700.42 L245.58,692.43 L245.97,684.17 L246.35,675.65 L246.73,666.86 L247.11,657.83 L247.50,648.56 L247.88,639.06 L248.26,629.34 L248.64,619.42 L249.02,609.32 L249.41,599.04 L249.79,588.61 L250.17,578.04 L250.55,567.36 L250.94,556.58 L251.32,545.72 L251.70,534.82 L252.08,523.88 L252.46,512.92 L252.85,501.98 L253.23,491.07 L253.61,480.21 L253.99,469.42 L254.38,458.72 L254.76,448.14 L255.14,437.67 L255.52,427.36 L255.90,417.20 L256.29,407.22 L256.67,397.42 L257.05,387.82 L257.43,378.43 L257.82,369.26 L258.20,360.31 L258.58,351.60 L258.96,343.13 L259.34,334.90 L259.73,326.91 L260.11,319.17 L260.49,311.68 L260.87,304.44 L261.26,297.44 L261.64,290.69 L262.02,284.19 L262.40,277.92 L262.78,271.89 L263.17,266.09 L263.55,260.53 L263.93,255.18 L264.31,250.05 L264.70,245.14 L265.08,240.42 L265.46,235.91 L265.84,231.60 L266.23,227.47 L266.61,223.52 L266.99,219.75 L267.37,216.14 L267.75,212.70 L268.14,209.42 L268.52,206.28 L268.90,203.29 L269.28,200.44 L269.67,197.72 L270.05,195.13 L270.43,192.66 L270.81,190.31 L271.19,188.07 L271.58,185.93 L271.96,183.90 L272.34,181.96 L272.72,180.12 L273.11,178.36 L273.49,176.69 L273.87,175.10 L274.25,173.59 L274.63,172.15 L275.02,170.78 L275.40,169.47 L275.78,168.23 L276.16,167.05 L276.55,165.92 L276.93,164.85 L277.31,163.83 L277.69,162.86 L278.07,161.94 L278.46,161.06 L278.84,160.23 L279.22,159.43 L279.60,158.67 L279.99,157.95 L280.37,157.26 L280.75,156.61 L281.13,155.99 L281.51,155.39 L281.90,154.83 L282.28,154.29 L282.66,153.78 L283.04,153.29 L283.43,152.82 L283.81,152.38 L284.19,151.96 L284.57,151.56 L284.95,151.17 L285.34,150.81 L285.72,150.46 L286.10,150.13 L286.48,149.81 L286.87,149.51 L287.25,149.22 L287.63,148.94 L288.01,148.68 L288.39,148.43 L288.78,148.19 L289.16,147.96 L289.54,147.75 L289.92,147.54 L290.31,147.34 L290.69,147.15 L291.07,146.97 L291.45,146.80 L291.83,146.63 L292.22,146.47 L292.60,146.32 L292.98,146.18 L293.36,146.04 L293.75,145.91 L294.13,145.79 L294.51,145.67 L294.89,145.55 L295.27,145.44 L295.66,145.34 L296.04,145.24 L296.42,145.14 L296.80,145.05 L297.19,144.96 L297.57,144.88 L297.95,144.80 L298.33,144.72 L298.71,144.64 L299.10,144.57 L299.48,144.51 L299.86,144.44 L300.24,144.38 L300.63,144.32 L301.01,144.26 L301.39,144.21 L301.77,144.16 L302.15,144.11 L302.54,144.06 L302.92,144.01 L303.30,143.97 L303.68,143.93 L304.07,143.88 L304.45,143.85 L304.83,143.81 L305.21,143.77 L305.59,143.74 L305.98,143.70 L306.36,143.67 L306.74,143.64 L307.12,143.61 L307.51,143.59 L307.89,143.56 L308.27,143.53 L308.65,143.51 L309.03,143.48 L309.42,143.46 L309.80,143.44 L310.18,143.42 L310.56,143.40 L310.95,143.38 L311.33,143.36 L311.71,143.34 L312.09,143.32 L312.47,143.31 L312.86,143.29 L313.24,143.28 L313.62,143.26 L314.00,143.25 L314.39,143.23 L314.77,143.22 L315.15,143.21 L315.53,143.20 L315.91,143.18 L316.30,143.17 L316.68,143.16 L317.06,143.15 L317.44,143.14 L317.83,143.13 L318.21,143.12 L318.59,143.11 L318.97,143.10 L319.36,143.10 L319.74,143.09 L320.12,143.08 L320.50,143.07 L320.88,143.07 L321.27,143.06 L321.65,143.05 L322.03,143.05 L322.41,143.04 L322.80,143.03 L323.18,143.03 L323.56,143.02 L323.94,143.02 L324.32,143.01 L324.71,143.01 L325.09,143.00 L325.47,143.00 L325.85,142.99 L326.24,142.99 L326.62,142.98 L327.00,142.98 L327.38,142.98 L327.76,142.97 L328.15,142.97 L328.53,142.96 L328.91,142.96 L329.29,142.96 L329.68,142.95 L330.06,142.95 L330.44,142.95 L330.82,142.95 L331.20,142.94 L331.59,142.94 L331.97,142.94 L332.35,142.94 L332.73,142.93 L333.12,142.93 L333.50,142.93 L333.88,142.93 L334.26,142.92 L334.64,142.92 L335.03,142.92 L335.41,142.92 L335.79,142.92 L336.17,142.91 L336.56,142.91 L336.94,142.91 L337.32,142.91 L337.70,142.91 L338.08,142.91 L338.47,142.91 L338.85,142.90 L339.23,142.90 L339.61,142.90 L340.00,142.90 L340.38,142.90 L340.76,142.90 L341.14,142.90 L341.52,142.90 L341.91,142.89 L342.29,142.89 L342.67,142.89 L343.05,142.89 L343.44,142.89 L343.82,142.89 L344.20,142.89 L344.58,142.89 L344.96,142.89 L345.35,142.89 L345.73,142.88 L346.11,142.88 L346.49,142.88 L346.88,142.88 L347.26,142.88 L347.64,142.88 L348.02,142.88 L348.40,142.88 L348.79,142.88 L349.17,142.88 L349.55,142.88 L349.93,142.88 L350.32,142.88 L350.70,142.88 L351.08,142.88 L351.46,142.88 L351.84,142.87 L352.23,142.87 L352.61,142.87 L352.99,142.87 L353.37,142.87 L353.76,142.87 L354.14,142.87 L354.52,142.87 L354.90,142.87 L355.28,142.87 L355.67,142.87 L356.05,142.87 L356.43,142.87 L356.81,142.87 L357.20,142.87 L357.58,142.87 L357.96,142.87 L358.34,142.87 L358.72,142.87 L359.11,142.87 L359.49,142.87 L359.87,142.87 L360.25,142.87 L360.64,142.87 L361.02,142.87 L361.40,142.87 L361.78,142.87 L362.16,142.87 L362.55,142.87 L362.93,142.87 L363.31,142.87 L363.69,142.87 L364.08,142.87 L364.46,142.86 L364.84,142.86 L365.22,142.86 L365.61,142.86 L365.99,142.86 L366.37,142.86 L366.75,142.86 L367.13,142.86 L367.52,142.86 L367.90,142.86 L368.28,142.86 L368.66,142.86 L369.05,142.86 L369.43,142.86 L369.81,142.86 L370.19,142.86 L370.57,142.86 L370.96,142.86 L371.34,142.86 L371.72,142.86 L372.10,142.86 L372.49,142.86 L372.87,142.86 L373.25,142.86 L373.63,142.86 L374.01,142.86 L374.40,142.86 L374.78,142.86 L375.16,142.86 L375.54,142.86 L375.93,142.86 L376.31,142.86 L376.69,142.86 L377.07,142.86 L377.45,142.86 L377.84,142.86 L378.22,142.86 L378.60,142.86 L378.98,142.86 L379.37,142.86 L379.75,142.86 L380.13,142.87 L380.51,142.87 L380.89,142.87 L381.28,142.87 L381.66,142.87 L382.04,142.87 L382.42,142.87 L382.81,142.87 L383.19,142.87 L383.57,142.87 L383.95,142.87 L384.33,142.87 L384.72,142.87 L385.10,142.87 L385.48,142.87 L385.86,142.87 L386.25,142.87 L386.63,142.87 L387.01,142.87 L387.39,142.88 L387.77,142.88 L388.16,142.88 L388.54,142.88 L388.92,142.88 L389.30,142.88 L389.69,142.88 L390.07,142.88 L390.45,142.89 L390.83,142.89 L391.21,142.89 L391.60,142.89 L391.98,142.89 L392.36,142.90 L392.74,142.90 L393.13,142.90 L393.51,142.90 L393.89,142.90 L394.27,142.91 L394.65,142.91 L395.04,142.91 L395.42,142.92 L395.80,142.92 L396.18,142.92 L396.57,142.93 L396.95,142.93 L397.33,142.94 L397.71,142.94 L398.09,142.94 L398.48,142.95 L398.86,142.96 L399.24,142.96 L399.62,142.97 L400.01,142.97 L400.39,142.98 L400.77,142.99 L401.15,142.99 L401.53,143.00 L401.92,143.01 L402.30,143.02 L402.68,143.03 L403.06,143.04 L403.45,143.05 L403.83,143.06 L404.21,143.07 L404.59,143.08 L404.97,143.09 L405.36,143.11 L405.74,143.12 L406.12,143.14 L406.50,143.15 L406.89,143.17 L407.27,143.18 L407.65,143.20 L408.03,143.22 L408.41,143.24 L408.80,143.26 L409.18,143.28 L409.56,143.31 L409.94,143.33 L410.33,143.36 L410.71,143.39 L411.09,143.41 L411.47,143.44 L411.85,143.48 L412.24,143.51 L412.62,143.54 L413.00,143.58 L413.38,143.62 L413.77,143.66 L414.15,143.70 L414.53,143.75 L414.91,143.79 L415.30,143.84 L415.68,143.89 L416.06,143.95 L416.44,144.01 L416.82,144.07 L417.21,144.13 L417.59,144.20 L417.97,144.27 L418.35,144.34 L418.74,144.41 L419.12,144.49 L419.50,144.58 L419.88,144.67 L420.26,144.76 L420.65,144.86 L421.03,144.96 L421.41,145.07 L421.79,145.18 L422.18,145.29 L422.56,145.42 L422.94,145.55 L423.32,145.68 L423.70,145.82 L424.09,145.97 L424.47,146.13 L424.85,146.29 L425.23,146.46 L425.62,146.64 L426.00,146.83 L426.38,147.02 L426.76,147.23 L427.14,147.44 L427.53,147.66 L427.91,147.90 L428.29,148.14 L428.67,148.40 L429.06,148.67 L429.44,148.95 L429.82,149.24 L430.20,149.55 L430.58,149.87 L430.97,150.21 L431.35,150.56 L431.73,150.92 L432.11,151.31 L432.50,151.71 L432.88,152.12 L433.26,152.56 L433.64,153.02 L434.02,153.49 L434.41,153.99 L434.79,154.51 L435.17,155.05 L435.55,155.61 L435.94,156.20 L436.32,156.81 L436.70,157.45 L437.08,158.12 L437.46,158.82 L437.85,159.54 L438.23,160.30 L438.61,161.09 L438.99,161.91 L439.38,162.76 L439.76,163.65 L440.14,164.58 L440.52,165.54 L440.90,166.55 L441.29,167.59 L441.67,168.68 L442.05,169.81 L442.43,170.98 L442.82,172.20 L443.20,173.47 L443.58,174.79 L443.96,176.16 L444.34,177.59 L444.73,179.07 L445.11,180.60 L445.49,182.19 L445.87,183.85 L446.26,185.56 L446.64,187.34 L447.02,189.18 L447.40,191.09 L447.78,193.07 L448.17,195.11 L448.55,197.24 L448.93,199.43 L449.31,201.70 L449.70,204.05 L450.08,206.48 L450.46,208.99 L450.84,211.58 L451.22,214.26 L451.61,217.02 L451.99,219.88 L452.37,222.82 L452.75,225.86 L453.14,228.99 L453.52,232.21 L453.90,235.53 L454.28,238.94 L454.66,242.46 L455.05,246.07 L455.43,249.79 L455.81,253.60 L456.19,257.52 L456.58,261.55 L456.96,265.67 L457.34,269.90 L457.72,274.24 L458.10,278.68 L458.49,283.22 L458.87,287.87 L459.25,292.62 L459.63,297.48 L460.02,302.43 L460.40,307.49 L460.78,312.65 L461.16,317.91 L461.54,323.27 L461.93,328.72 L462.31,334.27 L462.69,339.91 L463.07,345.64 L463.46,351.45 L463.84,357.35 L464.22,363.34 L464.60,369.40 L464.99,375.53 L465.37,381.74 L465.75,388.01 L466.13,394.35 L466.51,400.75 L466.90,407.20 L467.28,413.71 L467.66,420.26 L468.04,426.85 L468.43,433.49 L468.81,440.15 L469.19,446.85 L469.57,453.56 L469.95,460.30 L470.34,467.05 L470.72,473.81 L471.10,480.57 L471.48,487.33 L471.87,494.08 L472.25,500.82 L472.63,507.55 L473.01,514.25 L473.39,520.93 L473.78,527.58 L474.16,534.19 L474.54,540.76 L474.92,547.29 L475.31,553.77 L475.69,560.20 L476.07,566.57 L476.45,572.89 L476.83,579.14 L477.22,585.32 L477.60,591.43 L477.98,597.48 L478.36,603.44 L478.75,609.33 L479.13,615.14 L479.51,620.86 L479.89,626.50 L480.27,632.05 L480.66,637.52 L481.04,642.89 L481.42,648.18 L481.80,653.37 L482.19,658.46 L482.57,663.47 L482.95,668.37 L483.33,673.19 L483.71,677.91 L484.10,682.53 L484.48,687.05 L484.86,691.48 L485.24,695.82 L485.63,700.06 L486.01,704.20 L486.39,708.25 L486.77,712.21 L487.15,716.07 L487.54,719.85 L487.92,723.53 L488.30,727.12 L488.68,730.62 L489.07,734.04 L489.45,737.36 L489.83,740.61 L490.21,743.77 L490.59,746.84 L490.98,749.84 L491.36,752.76 L491.74,755.59 L492.12,758.35 L492.51,761.04 L492.89,763.65 L493.27,766.19 L493.65,768.66 L494.03,771.06 L494.42,773.39 L494.80,775.65 L495.18,777.85 L495.56,779.99 L495.95,782.06 L496.33,784.07 L496.71,786.03 L497.09,787.93 L497.47,789.77 L497.86,791.55 L498.24,793.29 L498.62,794.97 L499.00,796.60 L499.39,798.18 L499.77,799.72 L500.15,801.21 L500.53,802.65 L500.91,804.05 L501.30,805.41 L501.68,806.72 L502.06,808.00 L502.44,809.23 L502.83,810.43 L503.21,811.59 L503.59,812.71 L503.97,813.80 L504.35,814.86 L504.74,815.88 L505.12,816.87 L505.50,817.84 L505.88,818.77 L506.27,819.67 L506.65,820.54 L507.03,821.39 L507.41,822.21 L507.79,823.00 L508.18,823.77 L508.56,824.52 L508.94,825.24 L509.32,825.94 L509.71,826.62 L510.09,827.27 L510.47,827.91 L510.85,828.52 L511.23,829.12 L511.62,829.70 L512.00,830.26 L512.38,830.80 L512.76,831.32 L513.15,831.83 L513.53,832.32 L513.91,832.80 L514.29,833.26 L514.67,833.71 L515.06,834.14 L515.44,834.56 L515.82,834.97 L516.20,835.36 L516.59,835.74 L516.97,836.11 L517.35,836.47 L517.73,836.82 L518.12,837.16 L518.50,837.48 L518.88,837.80 L519.26,838.10 L519.64,838.40 L520.03,838.69 L520.41,838.96 L520.79,839.23 L521.17,839.49 L521.56,839.75 L521.94,839.99 L522.32,840.23 L522.70,840.46 L523.08,840.68 L523.47,840.90 L523.85,841.11 L524.23,841.31 L524.61,841.51 L525.00,841.70 L525.38,841.88 L525.76,842.06 L526.14,842.24 L526.52,842.41 L526.91,842.57 L527.29,842.73 L527.67,842.88 L528.05,843.03 L528.44,843.17 L528.82,843.31 L529.20,843.45 L529.58,843.58 L529.96,843.71 L530.35,843.83 L530.73,843.95 L531.11,844.07 L531.49,844.18 L531.88,844.29 L532.26,844.40 L532.64,844.50 L533.02,844.60 L533.40,844.70 L533.79,844.79 L534.17,844.88 L534.55,844.97 L534.93,845.06 L535.32,845.14 L535.70,845.22 L536.08,845.30 L536.46,845.38 L536.84,845.45 L537.23,845.52 L537.61,845.59 L537.99,845.66 L538.37,845.72 L538.76,845.79 L539.14,845.85 L539.52,845.91 L539.90,845.97 L540.28,846.02 L540.67,846.08 L541.05,846.13 L541.43,846.18 L541.81,846.23 L542.20,846.28 L542.58,846.33 L542.96,846.37 L543.34,846.42 L543.72,846.46 L544.11,846.50 L544.49,846.55 L544.87,846.59 L545.25,846.62 L545.64,846.66 L546.02,846.70 L546.40,846.73 L546.78,846.77 L547.16,846.80 L547.55,846.83 L547.93,846.86 L548.31,846.89 L548.69,846.92 L549.08,846.95 L549.46,846.98 L549.84,847.01 L550.22,847.04 L550.60,847.06 L550.99,847.09 L551.37,847.11 L551.75,847.13 L552.13,847.16 L552.52,847.18 L552.90,847.20 L553.28,847.22 L553.66,847.24 L554.04,847.26 L554.43,847.28 L554.81,847.30 L555.19,847.32 L555.57,847.34 L555.96,847.35 L556.34,847.37 L556.72,847.39 L557.10,847.40 L557.48,847.42 L557.87,847.43 L558.25,847.45 L558.63,847.46 L559.01,847.48 L559.40,847.49 L559.78,847.50 L560.16,847.52 L560.54,847.53 L560.92,847.54 L561.31,847.55 L561.69,847.56 L562.07,847.57 L562.45,847.59 L562.84,847.60 L563.22,847.61 L563.60,847.62 L563.98,847.63 L564.37,847.64 L564.75,847.64 L565.13,847.65 L565.51,847.66 L565.89,847.67 L566.28,847.68 L566.66,847.69 L567.04,847.70 L567.42,847.70 L567.81,847.71 L568.19,847.72 L568.57,847.72 L568.95,847.73 L569.33,847.74 L569.72,847.74 L570.10,847.75 L570.48,847.76 L570.86,847.76 L571.25,847.77 L571.63,847.77 L572.01,847.78 L572.39,847.79 L572.77,847.79 L573.16,847.80 L573.54,847.80 L573.92,847.81 L574.30,847.81 L574.69,847.81 L575.07,847.82 L575.45,847.82 L575.83,847.83 L576.21,847.83 L576.60,847.84 L576.98,847.84 L577.36,847.84 L577.74,847.85 L578.13,847.85 L578.51,847.86 L578.89,847.86 L579.27,847.86 L579.65,847.87 L580.04,847.87 L580.42,847.87 L580.80,847.87 L581.18,847.88 L581.57,847.88 L581.95,847.88 L582.33,847.89 L582.71,847.89 L583.09,847.89 L583.48,847.89 L583.86,847.90 L584.24,847.90 L584.62,847.90 L585.01,847.90 L585.39,847.91 L585.77,847.91 L586.15,847.91 L586.53,847.91 L586.92,847.91 L587.30,847.92 L587.68,847.92 L588.06,847.92 L588.45,847.92 L588.83,847.92 L589.21,847.93 L589.59,847.93 L589.97,847.93 L590.36,847.93 L590.74,847.93 L591.12,847.93 L591.50,847.94 L591.89,847.94 L592.27,847.94 L592.65,847.94 L593.03,847.94 L593.41,847.94 L593.80,847.94 L594.18,847.94 L594.56,847.95 L594.94,847.95 L595.33,847.95 L595.71,847.95 L596.09,847.95 L596.47,847.95 L596.85,847.95 L597.24,847.95 L597.62,847.96 L598.00,847.96 L598.38,847.96 L598.77,847.96 L599.15,847.96 L599.53,847.96 L599.91,847.96 L600.29,847.96 L600.68,847.96 L601.06,847.96 L601.44,847.96 L601.82,847.96 L602.21,847.97 L602.59,847.97 L602.97,847.97 L603.35,847.97 L603.73,847.97 L604.12,847.97 L604.50,847.97 L604.88,847.97 L605.26,847.97 L605.65,847.97 L606.03,847.97 L606.41,847.97 L606.79,847.97 L607.17,847.97 L607.56,847.97 L607.94,847.98 L608.32,847.98 L608.70,847.98 L609.09,847.98 L609.47,847.98 L609.85,847.98 L610.23,847.98 L610.61,847.98 L611.00,847.98 L611.38,847.98 L611.76,847.98 L612.14,847.98 L612.53,847.98 L612.91,847.98 L613.29,847.98 L613.67,847.98 L614.06,847.98 L614.44,847.98 L614.82,847.98 L615.20,847.98 L615.58,847.98 L615.97,847.98 L616.35,847.98 L616.73,847.98 L617.11,847.99 L617.50,847.99 L617.88,847.99 L618.26,847.99 L618.64,847.99 L619.02,847.99 L619.41,847.99 L619.79,847.99 L620.17,847.99 L620.55,847.99 L620.94,847.99 L621.32,847.99 L621.70,847.99 L622.08,847.99 L622.46,847.99 L622.85,847.99 L623.23,847.99 L623.61,847.99 L623.99,847.99 L624.38,847.99 L624.76,847.99 L625.14,847.99 L625.52,847.99 L625.90,847.99 L626.29,847.99 L626.67,847.99 L627.05,847.99 L627.43,847.99 L627.82,847.99 L628.20,847.99 L628.58,847.99 L628.96,847.99 L629.34,847.99 L629.73,847.99 L630.11,847.99 L630.49,847.99 L630.87,847.99 L631.26,847.99 L631.64,847.99 L632.02,847.99 L632.40,847.99 L632.78,847.99 L633.17,847.99 L633.55,847.99 L633.93,847.99 L634.31,847.99 L634.70,847.99 L635.08,847.99 L635.46,847.99 L635.84,847.99 L636.22,847.99 L636.61,847.99 L636.99,847.99 L637.37,847.99 L637.75,848.00 L638.14,848.00 L638.52,848.00 L638.90,848.00 L640.43,848.00 L644.59,848.00 L648.75,848.00 L652.92,848.00 L657.08,848.00 L661.24,848.00 L665.41,848.00 L669.57,848.00 L673.73,848.00 L677.89,848.00 L682.06,848.00 L686.22,848.00 L690.38,848.00 L694.55,848.00 L698.71,848.00 L702.87,848.00 L707.03,848.00 L711.20,848.00 L715.36,848.00 L719.52,848.00 L723.68,848.00 L727.85,848.00 L732.01,848.00 L736.17,848.00 L740.34,848.00 L744.50,848.00 L748.66,848.00 L752.82,848.00 L756.99,848.00 L761.15,848.00 L765.31,848.00 L769.48,848.00 L773.64,848.00 L777.80,848.00 L781.96,848.00 L786.13,848.00 L790.29,848.00 L794.45,848.00 L798.61,848.00 L802.78,848.00 L806.94,848.00 L811.10,848.00 L815.27,848.00 L819.43,848.00 L823.59,848.00 L827.75,848.00 L831.92,848.00 L836.08,848.00 L840.24,848.00 L844.41,848.00 L848.57,848.00 L852.73,848.00 L856.89,848.00 L861.06,848.00 L865.22,848.00 L869.38,848.00 L873.54,848.00 L877.71,848.00 L881.87,848.00 L886.03,848.00 L890.20,848.00 L894.36,848.00 L898.52,848.00 L902.68,848.00 L906.85,848.00 L911.01,848.00 L915.17,848.00 L919.34,848.00 L923.50,848.00 L927.66,848.00 L931.82,848.00 L935.99,848.00 L940.15,848.00 L944.31,848.00 L948.47,848.00 L952.64,848.00 L956.80,848.00 L960.96,848.00 L965.13,848.00 L969.29,848.00 L973.45,848.00 L977.61,848.00 L981.78,848.00 L985.94,848.00 L990.10,848.00 L994.27,848.00 L998.43,848.00 L1002.59,848.00 L1006.75,848.00 L1010.92,848.00 L1015.08,848.00 L1019.24,848.00 L1023.40,848.00 L1027.57,848.00 L1031.73,848.00 L1035.89,848.00 L1040.06,848.00 L1044.22,848.00 L1048.38,848.00 L1052.54,848.00 L1056.71,848.00 L1060.87,848.00 L1065.03,848.00 L1069.20,848.00 L1073.36,848.00 L1077.52,848.00 L1081.68,848.00 L1085.85,848.00 L1090.01,848.00 L1094.17,848.00 L1098.33,848.00 L1102.50,848.00 L1106.66,848.00 L1110.82,848.00 L1114.99,848.00 L1119.15,848.00 L1123.31,848.00 L1127.47,848.00 L1131.64,848.00 L1135.80,848.00" stroke="#ff7f0e" stroke-width="5.60" stroke-linecap="square"/>
<path d="M142.00,848.00 L142.38,848.00 L142.76,848.00 L143.15,848.00 L143.53,848.00 L143.91,848.00 L144.29,848.00 L144.68,848.00 L145.06,848.00 L145.44,848.00 L145.82,848.00 L146.20,848.00 L146.59,848.00 L146.97,848.00 L147.35,848.00 L147.73,848.00 L148.12,848.00 L148.50,848.00 L148.88,848.00 L149.26,848.00 L149.64,848.00 L150.03,848.00 L150.41,848.00 L150.79,848.00 L151.17,848.00 L151.56,848.00 L151.94,848.00 L152.32,848.00 L152.70,848.00 L153.08,848.00 L153.47,848.00 L153.85,848.00 L154.23,848.00 L154.61,848.00 L155.00,848.00 L155.38,848.00 L155.76,848.00 L156.14,848.00 L156.52,848.00 L156.91,848.00 L157.29,848.00 L157.67,848.00 L158.05,848.00 L158.44,848.00 L158.82,848.00 L159.20,848.00 L159.58,848.00 L159.96,848.00 L160.35,848.00 L160.73,848.00 L161.11,848.00 L161.49,848.00 L161.88,848.00 L162.26,848.00 L162.64,848.00 L163.02,848.00 L163.40,848.00 L163.79,848.00 L164.17,848.00 L164.55,848.00 L164.93,848.00 L165.32,848.00 L165.70,848.00 L166.08,848.00 L166.46,848.00 L166.84,848.00 L167.23,848.00 L167.61,848.00 L167.99,848.00 L168.37,848.00 L168.76,848.00 L169.14,848.00 L169.52,848.00 L169.90,848.00 L170.29,848.00 L170.67,848.00 L171.05,848.00 L171.43,848.00 L171.81,848.00 L172.20,848.00 L172.58,848.00 L172.96,848.00 L173.34,848.00 L173.73,848.00 L174.11,848.00 L174.49,848.00 L174.87,848.00 L175.25,848.00 L175.64,848.00 L176.02,848.00 L176.40,848.00 L176.78,848.00 L177.17,848.00 L177.55,848.00 L177.93,848.00 L178.31,848.00 L178.69,848.00 L179.08,848.00 L179.46,848.00 L179.84,848.00 L180.22,848.00 L180.61,848.00 L180.99,848.00 L181.37,848.00 L181.75,848.00 L182.13,848.00 L182.52,848.00 L182.90,848.00 L183.28,848.00 L183.66,848.00 L184.05,848.00 L184.43,848.00 L184.81,848.00 L185.19,848.00 L185.57,848.00 L185.96,848.00 L186.34,848.00 L186.72,848.00 L187.10,848.00 L187.49,848.00 L187.87,848.00 L188.25,848.00 L188.63,848.00 L189.01,848.00 L189.40,848.00 L189.78,848.00 L190.16,848.00 L190.54,848.00 L190.93,848.00 L191.31,848.00 L191.69,848.00 L192.07,848.00 L192.45,848.00 L192.84,848.00 L193.22,848.00 L193.60,848.00 L193.98,848.00 L194.37,848.00 L194.75,848.00 L195.13,848.00 L195.51,848.00 L195.89,848.00 L196.28,848.00 L196.66,848.00 L197.04,848.00 L197.42,848.00 L197.81,848.00 L198.19,848.00 L198.57,848.00 L198.95,848.00 L199.33,848.00 L199.72,848.00 L200.10,848.00 L200.48,848.00 L200.86,848.00 L201.25,848.00 L201.63,848.00 L202.01,848.00 L202.39,848.00 L202.77,848.00 L203.16,848.00 L203.54,848.00 L203.92,848.00 L204.30,848.00 L204.69,848.00 L205.07,848.00 L205.45,848.00 L205.83,848.00 L206.21,848.00 L206.60,848.00 L206.98,848.00 L207.36,848.00 L207.74,848.00 L208.13,848.00 L208.51,848.00 L208.89,848.00 L209.27,848.00 L209.65,848.00 L210.04,848.00 L210.42,848.00 L210.80,848.00 L211.18,848.00 L211.57,848.00 L211.95,848.00 L212.33,848.00 L212.71,848.00 L213.09,848.00 L213.48,848.00 L213.86,848.00 L214.24,848.00 L214.62,848.00 L215.01,848.00 L215.39,848.00 L215.77,848.00 L216.15,848.00 L216.53,848.00 L216.92,848.00 L217.30,848.00 L217.68,848.00 L218.06,848.00 L218.45,848.00 L218.83,848.00 L219.21,848.00 L219.59,848.00 L219.98,848.00 L220.36,848.00 L220.74,848.00 L221.12,848.00 L221.50,848.00 L221.89,848.00 L222.27,848.00 L222.65,848.00 L223.03,848.00 L223.42,848.00 L223.80,848.00 L224.18,848.00 L224.56,848.00 L224.94,848.00 L225.33,848.00 L225.71,848.00 L226.09,848.00 L226.47,848.00 L226.86,848.00 L227.24,848.00 L227.62,848.00 L228.00,848.00 L228.38,848.00 L228.77,848.00 L229.15,848.00 L229.53,848.00 L229.91,848.00 L230.30,848.00 L230.68,848.00 L231.06,848.00 L231.44,848.00 L231.82,848.00 L232.21,848.00 L232.59,848.00 L232.97,848.00 L233.35,848.00 L233.74,848.00 L234.12,848.00 L234.50,848.00 L234.88,848.00 L235.26,848.00 L235.65,848.00 L236.03,848.00 L236.41,848.00 L236.79,848.00 L237.18,848.00 L237.56,848.00 L237.94,848.00 L238.32,848.00 L238.70,848.00 L239.09,848.00 L239.47,848.00 L239.85,848.00 L240.23,848.00 L240.62,848.00 L241.00,848.00 L241.38,848.00 L241.76,848.00 L242.14,848.00 L242.53,848.00 L242.91,848.00 L243.29,848.00 L243.67,848.00 L244.06,848.00 L244.44,848.00 L244.82,848.00 L245.20,848.00 L245.58,848.00 L245.97,848.00 L246.35,848.00 L246.73,848.00 L247.11,848.00 L247.50,848.00 L247.88,848.00 L248.26,848.00 L248.64,848.00 L249.02,848.00 L249.41,848.00 L249.79,848.00 L250.17,848.00 L250.55,848.00 L250.94,848.00 L251.32,848.00 L251.70,848.00 L252.08,848.00 L252.46,848.00 L252.85,848.00 L253.23,848.00 L253.61,848.00 L253.99,848.00 L254.38,848.00 L254.76,848.00 L255.14,848.00 L255.52,848.00 L255.90,848.00 L256.29,848.00 L256.67,848.00 L257.05,848.00 L257.43,848.00 L257.82,848.00 L258.20,848.00 L258.58,848.00 L258.96,848.00 L259.34,848.00 L259.73,848.00 L260.11,848.00 L260.49,848.00 L260.87,848.00 L261.26,848.00 L261.64,848.00 L262.02,848.00 L262.40,848.00 L262.78,848.00 L263.17,848.00 L263.55,848.00 L263.93,848.00 L264.31,848.00 L264.70,848.00 L265.08,848.00 L265.46,848.00 L265.84,848.00 L266.23,848.00 L266.61,848.00 L266.99,848.00 L267.37,848.00 L267.75,848.00 L268.14,848.00 L268.52,848.00 L268.90,848.00 L269.28,848.00 L269.67,848.00 L270.05,848.00 L270.43,848.00 L270.81,848.00 L271.19,848.00 L271.58,848.00 L271.96,848.00 L272.34,848.00 L272.72,848.00 L273.11,848.00 L273.49,848.00 L273.87,848.00 L274.25,848.00 L274.63,848.00 L275.02,848.00 L275.40,848.00 L275.78,848.00 L276.16,848.00 L276.55,848.00 L276.93,848.00 L277.31,848.00 L277.69,848.00 L278.07,848.00 L278.46,848.00 L278.84,848.00 L279.22,848.00 L279.60,848.00 L279.99,848.00 L280.37,848.00 L280.75,848.00 L281.13,848.00 L281.51,848.00 L281.90,848.00 L282.28,848.00 L282.66,848.00 L283.04,848.00 L283.43,848.00 L283.81,848.00 L284.19,848.00 L284.57,848.00 L284.95,848.00 L285.34,848.00 L285.72,848.00 L286.10,848.00 L286.48,848.00 L286.87,848.00 L287.25,848.00 L287.63,848.00 L288.01,848.00 L288.39,848.00 L288.78,848.00 L289.16,848.00 L289.54,848.00 L289.92,848.00 L290.31,848.00 L290.69,848.00 L291.07,848.00 L291.45,848.00 L291.83,848.00 L292.22,848.00 L292.60,848.00 L292.98,848.00 L293.36,848.00 L293.75,848.00 L294.13,848.00 L294.51,848.00 L294.89,848.00 L295.27,848.00 L295.66,848.00 L296.04,848.00 L296.42,848.00 L296.80,848.00 L297.19,848.00 L297.57,848.00 L297.95,848.00 L298.33,848.00 L298.71,848.00 L299.10,848.00 L299.48,848.00 L299.86,848.00 L300.24,848.00 L300.63,848.00 L301.01,848.00 L301.39,848.00 L301.77,848.00 L302.15,848.00 L302.54,848.00 L302.92,848.00 L303.30,848.00 L303.68,848.00 L304.07,848.00 L304.45,848.00 L304.83,848.00 L305.21,848.00 L305.59,848.00 L305.98,848.00 L306.36,848.00 L306.74,848.00 L307.12,848.00 L307.51,848.00 L307.89,848.00 L308.27,848.00 L308.65,848.00 L309.03,848.00 L309.42,848.00 L309.80,848.00 L310.18,848.00 L310.56,848.00 L310.95,848.00 L311.33,848.00 L311.71,848.00 L312.09,848.00 L312.47,848.00 L312.86,848.00 L313.24,848.00 L313.62,848.00 L314.00,848.00 L314.39,848.00 L314.77,848.00 L315.15,848.00 L315.53,848.00 L315.91,848.00 L316.30,848.00 L316.68,848.00 L317.06,848.00 L317.44,848.00 L317.83,848.00 L318.21,848.00 L318.59,848.00 L318.97,848.00 L319.36,848.00 L319.74,848.00 L320.12,848.00 L320.50,848.00 L320.88,848.00 L321.27,848.00 L321.65,848.00 L322.03,848.00 L322.41,848.00 L322.80,848.00 L323.18,848.00 L323.56,848.00 L323.94,848.00 L324.32,848.00 L324.71,848.00 L325.09,848.00 L325.47,848.00 L325.85,848.00 L326.24,848.00 L326.62,848.00 L327.00,848.00 L327.38,848.00 L327.76,848.00 L328.15,848.00 L328.53,848.00 L328.91,848.00 L329.29,848.00 L329.68,848.00 L330.06,848.00 L330.44,848.00 L330.82,848.00 L331.20,848.00 L331.59,848.00 L331.97,848.00 L332.35,848.00 L332.73,848.00 L333.12,848.00 L333.50,848.00 L333.88,848.00 L334.26,848.00 L334.64,848.00 L335.03,848.00 L335.41,848.00 L335.79,848.00 L336.17,848.00 L336.56,848.00 L336.94,848.00 L337.32,848.00 L337.70,848.00 L338.08,848.00 L338.47,848.00 L338.85,848.00 L339.23,848.00 L339.61,848.00 L340.00,848.00 L340.38,848.00 L340.76,848.00 L341.14,848.00 L341.52,848.00 L341.91,848.00 L342.29,848.00 L342.67,848.00 L343.05,848.00 L343.44,848.00 L343.82,848.00 L344.20,848.00 L344.58,848.00 L344.96,848.00 L345.35,848.00 L345.73,848.00 L346.11,848.00 L346.49,848.00 L346.88,848.00 L347.26,848.00 L347.64,848.00 L348.02,848.00 L348.40,848.00 L348.79,848.00 L349.17,848.00 L349.55,848.00 L349.93,848.00 L350.32,848.00 L350.70,848.00 L351.08,848.00 L351.46,848.00 L351.84,848.00 L352.23,848.00 L352.61,848.00 L352.99,848.00 L353.37,848.00 L353.76,848.00 L354.14,848.00 L354.52,848.00 L354.90,848.00 L355.28,848.00 L355.67,848.00 L356.05,848.00 L356.43,848.00 L356.81,848.00 L357.20,848.00 L357.58,848.00 L357.96,848.00 L358.34,848.00 L358.72,848.00 L359.11,848.00 L359.49,848.00 L359.87,848.00 L360.25,848.00 L360.64,848.00 L361.02,848.00 L361.40,848.00 L361.78,848.00 L362.16,848.00 L362.55,848.00 L362.93,848.00 L363.31,848.00 L363.69,848.00 L364.08,848.00 L364.46,848.00 L364.84,848.00 L365.22,848.00 L365.61,848.00 L365.99,848.00 L366.37,848.00 L366.75,848.00 L367.13,848.00 L367.52,848.00 L367.90,848.00 L368.28,848.00 L368.66,848.00 L369.05,848.00 L369.43,848.00 L369.81,848.00 L370.19,848.00 L370.57,848.00 L370.96,848.00 L371.34,848.00 L371.72,848.00 L372.10,848.00 L372.49,848.00 L372.87,848.00 L373.25,848.00 L373.63,848.00 L374.01,848.00 L374.40,848.00 L374.78,848.00 L375.16,848.00 L375.54,848.00 L375.93,848.00 L376.31,848.00 L376.69,848.00 L377.07,848.00 L377.45,848.00 L377.84,848.00 L378.22,848.00 L378.60,848.00 L378.98,848.00 L379.37,848.00 L379.75,848.00 L380.13,847.99 L380.51,847.99 L380.89,847.99 L381.28,847.99 L381.66,847.99 L382.04,847.99 L382.42,847.99 L382.81,847.99 L383.19,847.99 L383.57,847.99 L383.95,847.99 L384.33,847.99 L384.72,847.99 L385.10,847.99 L385.48,847.99 L385.86,847.99 L386.25,847.99 L386.63,847.99 L387.01,847.98 L387.39,847.98 L387.77,847.98 L388.16,847.98 L388.54,847.98 L388.92,847.98 L389.30,847.98 L389.69,847.98 L390.07,847.97 L390.45,847.97 L390.83,847.97 L391.21,847.97 L391.60,847.97 L391.98,847.97 L392.36,847.96 L392.74,847.96 L393.13,847.96 L393.51,847.96 L393.89,847.95 L394.27,847.95 L394.65,847.95 L395.04,847.95 L395.42,847.94 L395.80,847.94 L396.18,847.93 L396.57,847.93 L396.95,847.93 L397.33,847.92 L397.71,847.92 L398.09,847.91 L398.48,847.91 L398.86,847.90 L399.24,847.90 L399.62,847.89 L400.01,847.88 L400.39,847.88 L400.77,847.87 L401.15,847.86 L401.53,847.86 L401.92,847.85 L402.30,847.84 L402.68,847.83 L403.06,847.82 L403.45,847.81 L403.83,847.80 L404.21,847.79 L404.59,847.78 L404.97,847.76 L405.36,847.75 L405.74,847.74 L406.12,847.72 L406.50,847.71 L406.89,847.69 L407.27,847.67 L407.65,847.66 L408.03,847.64 L408.41,847.62 L408.80,847.60 L409.18,847.57 L409.56,847.55 L409.94,847.53 L410.33,847.50 L410.71,847.47 L411.09,847.44 L411.47,847.41 L411.85,847.38 L412.24,847.35 L412.62,847.31 L413.00,847.28 L413.38,847.24 L413.77,847.20 L414.15,847.16 L414.53,847.11 L414.91,847.06 L415.30,847.01 L415.68,846.96 L416.06,846.91 L416.44,846.85 L416.82,846.79 L417.21,846.73 L417.59,846.66 L417.97,846.59 L418.35,846.52 L418.74,846.44 L419.12,846.36 L419.50,846.28 L419.88,846.19 L420.26,846.10 L420.65,846.00 L421.03,845.90 L421.41,845.79 L421.79,845.68 L422.18,845.56 L422.56,845.44 L422.94,845.31 L423.32,845.18 L423.70,845.03 L424.09,844.89 L424.47,844.73 L424.85,844.57 L425.23,844.40 L425.62,844.22 L426.00,844.03 L426.38,843.84 L426.76,843.63 L427.14,843.42 L427.53,843.19 L427.91,842.96 L428.29,842.71 L428.67,842.46 L429.06,842.19 L429.44,841.91 L429.82,841.61 L430.20,841.31 L430.58,840.99 L430.97,840.65 L431.35,840.30 L431.73,839.93 L432.11,839.55 L432.50,839.15 L432.88,838.73 L433.26,838.30 L433.64,837.84 L434.02,837.37 L434.41,836.87 L434.79,836.35 L435.17,835.81 L435.55,835.25 L435.94,834.66 L436.32,834.04 L436.70,833.40 L437.08,832.74 L437.46,832.04 L437.85,831.31 L438.23,830.56 L438.61,829.77 L438.99,828.95 L439.38,828.10 L439.76,827.21 L440.14,826.28 L440.52,825.31 L440.90,824.31 L441.29,823.27 L441.67,822.18 L442.05,821.05 L442.43,819.87 L442.82,818.65 L443.20,817.38 L443.58,816.06 L443.96,814.69 L444.34,813.27 L444.73,811.79 L445.11,810.26 L445.49,808.66 L445.87,807.01 L446.26,805.30 L446.64,803.52 L447.02,801.68 L447.40,799.77 L447.78,797.79 L448.17,795.74 L448.55,793.62 L448.93,791.43 L449.31,789.16 L449.70,786.81 L450.08,784.38 L450.46,781.87 L450.84,779.28 L451.22,776.60 L451.61,773.83 L451.99,770.98 L452.37,768.04 L452.75,765.00 L453.14,761.87 L453.52,758.65 L453.90,755.33 L454.28,751.91 L454.66,748.40 L455.05,744.79 L455.43,741.07 L455.81,737.25 L456.19,733.33 L456.58,729.31 L456.96,725.19 L457.34,720.95 L457.72,716.62 L458.10,712.18 L458.49,707.64 L458.87,702.99 L459.25,698.24 L459.63,693.38 L460.02,688.42 L460.40,683.36 L460.78,678.20 L461.16,672.94 L461.54,667.59 L461.93,662.13 L462.31,656.59 L462.69,650.95 L463.07,645.22 L463.46,639.40 L463.84,633.50 L464.22,627.52 L464.60,621.46 L464.99,615.33 L465.37,609.12 L465.75,602.85 L466.13,596.51 L466.51,590.11 L466.90,583.66 L467.28,577.15 L467.66,570.60 L468.04,564.00 L468.43,557.37 L468.81,550.71 L469.19,544.01 L469.57,537.29 L469.95,530.56 L470.34,523.81 L470.72,517.05 L471.10,510.29 L471.48,503.53 L471.87,496.78 L472.25,490.04 L472.63,483.31 L473.01,476.61 L473.39,469.93 L473.78,463.28 L474.16,456.67 L474.54,450.10 L474.92,443.57 L475.31,437.09 L475.69,430.66 L476.07,424.28 L476.45,417.97 L476.83,411.72 L477.22,405.54 L477.60,399.42 L477.98,393.38 L478.36,387.42 L478.75,381.53 L479.13,375.72 L479.51,370.00 L479.89,364.36 L480.27,358.80 L480.66,353.34 L481.04,347.97 L481.42,342.68 L481.80,337.49 L482.19,332.39 L482.57,327.39 L482.95,322.48 L483.33,317.67 L483.71,312.95 L484.10,308.33 L484.48,303.80 L484.86,299.37 L485.24,295.04 L485.63,290.80 L486.01,286.66 L486.39,282.61 L486.77,278.65 L487.15,274.78 L487.54,271.01 L487.92,267.33 L488.30,263.74 L488.68,260.24 L489.07,256.82 L489.45,253.49 L489.83,250.25 L490.21,247.09 L490.59,244.01 L490.98,241.02 L491.36,238.10 L491.74,235.26 L492.12,232.50 L492.51,229.82 L492.89,227.21 L493.27,224.67 L493.65,222.20 L494.03,219.80 L494.42,217.47 L494.80,215.21 L495.18,213.01 L495.56,210.87 L495.95,208.80 L496.33,206.78 L496.71,204.83 L497.09,202.93 L497.47,201.09 L497.86,199.30 L498.24,197.57 L498.62,195.89 L499.00,194.26 L499.39,192.67 L499.77,191.14 L500.15,189.65 L500.53,188.21 L500.91,186.81 L501.30,185.45 L501.68,184.14 L502.06,182.86 L502.44,181.63 L502.83,180.43 L503.21,179.27 L503.59,178.14 L503.97,177.05 L504.35,176.00 L504.74,174.97 L505.12,173.98 L505.50,173.02 L505.88,172.09 L506.27,171.19 L506.65,170.32 L507.03,169.47 L507.41,168.65 L507.79,167.85 L508.18,167.09 L508.56,166.34 L508.94,165.62 L509.32,164.92 L509.71,164.24 L510.09,163.59 L510.47,162.95 L510.85,162.33 L511.23,161.74 L511.62,161.16 L512.00,160.60 L512.38,160.06 L512.76,159.54 L513.15,159.03 L513.53,158.53 L513.91,158.06 L514.29,157.60 L514.67,157.15 L515.06,156.71 L515.44,156.30 L515.82,155.89 L516.20,155.49 L516.59,155.11 L516.97,154.74 L517.35,154.38 L517.73,154.04 L518.12,153.70 L518.50,153.38 L518.88,153.06 L519.26,152.75 L519.64,152.46 L520.03,152.17 L520.41,151.89 L520.79,151.62 L521.17,151.36 L521.56,151.11 L521.94,150.87 L522.32,150.63 L522.70,150.40 L523.08,150.17 L523.47,149.96 L523.85,149.75 L524.23,149.55 L524.61,149.35 L525.00,149.16 L525.38,148.97 L525.76,148.79 L526.14,148.62 L526.52,148.45 L526.91,148.29 L527.29,148.13 L527.67,147.98 L528.05,147.83 L528.44,147.68 L528.82,147.54 L529.20,147.41 L529.58,147.28 L529.96,147.15 L530.35,147.02 L530.73,146.90 L531.11,146.79 L531.49,146.68 L531.88,146.57 L532.26,146.46 L532.64,146.36 L533.02,146.26 L533.40,146.16 L533.79,146.07 L534.17,145.97 L534.55,145.89 L534.93,145.80 L535.32,145.72 L535.70,145.64 L536.08,145.56 L536.46,145.48 L536.84,145.41 L537.23,145.34 L537.61,145.27 L537.99,145.20 L538.37,145.13 L538.76,145.07 L539.14,145.01 L539.52,144.95 L539.90,144.89 L540.28,144.83 L540.67,144.78 L541.05,144.73 L541.43,144.67 L541.81,144.62 L542.20,144.58 L542.58,144.53 L542.96,144.48 L543.34,144.44 L543.72,144.39 L544.11,144.35 L544.49,144.31 L544.87,144.27 L545.25,144.23 L545.64,144.20 L546.02,144.16 L546.40,144.12 L546.78,144.09 L547.16,144.06 L547.55,144.02 L547.93,143.99 L548.31,143.96 L548.69,143.93 L549.08,143.90 L549.46,143.88 L549.84,143.85 L550.22,143.82 L550.60,143.80 L550.99,143.77 L551.37,143.75 L551.75,143.72 L552.13,143.70 L552.52,143.68 L552.90,143.66 L553.28,143.64 L553.66,143.61 L554.04,143.59 L554.43,143.58 L554.81,143.56 L555.19,143.54 L555.57,143.52 L555.96,143.50 L556.34,143.49 L556.72,143.47 L557.10,143.45 L557.48,143.44 L557.87,143.42 L558.25,143.41 L558.63,143.39 L559.01,143.38 L559.40,143.37 L559.78,143.35 L560.16,143.34 L560.54,143.33 L560.92,143.32 L561.31,143.30 L561.69,143.29 L562.07,143.28 L562.45,143.27 L562.84,143.26 L563.22,143.25 L563.60,143.24 L563.98,143.23 L564.37,143.22 L564.75,143.21 L565.13,143.20 L565.51,143.19 L565.89,143.19 L566.28,143.18 L566.66,143.17 L567.04,143.16 L567.42,143.15 L567.81,143.15 L568.19,143.14 L568.57,143.13 L568.95,143.13 L569.33,143.12 L569.72,143.11 L570.10,143.11 L570.48,143.10 L570.86,143.09 L571.25,143.09 L571.63,143.08 L572.01,143.08 L572.39,143.07 L572.77,143.07 L573.16,143.06 L573.54,143.06 L573.92,143.05 L574.30,143.05 L574.69,143.04 L575.07,143.04 L575.45,143.03 L575.83,143.03 L576.21,143.02 L576.60,143.02 L576.98,143.02 L577.36,143.01 L577.74,143.01 L578.13,143.01 L578.51,143.00 L578.89,143.00 L579.27,143.00 L579.65,142.99 L580.04,142.99 L580.42,142.99 L580.80,142.98 L581.18,142.98 L581.57,142.98 L581.95,142.97 L582.33,142.97 L582.71,142.97 L583.09,142.97 L583.48,142.96 L583.86,142.96 L584.24,142.96 L584.62,142.96 L585.01,142.95 L585.39,142.95 L585.77,142.95 L586.15,142.95 L586.53,142.94 L586.92,142.94 L587.30,142.94 L587.68,142.94 L588.06,142.94 L588.45,142.94 L588.83,142.93 L589.21,142.93 L589.59,142.93 L589.97,142.93 L590.36,142.93 L590.74,142.93 L591.12,142.92 L591.50,142.92 L591.89,142.92 L592.27,142.92 L592.65,142.92 L593.03,142.92 L593.41,142.91 L593.80,142.91 L594.18,142.91 L594.56,142.91 L594.94,142.91 L595.33,142.91 L595.71,142.91 L596.09,142.91 L596.47,142.91 L596.85,142.90 L597.24,142.90 L597.62,142.90 L598.00,142.90 L598.38,142.90 L598.77,142.90 L599.15,142.90 L599.53,142.90 L599.91,142.90 L600.29,142.90 L600.68,142.89 L601.06,142.89 L601.44,142.89 L601.82,142.89 L602.21,142.89 L602.59,142.89 L602.97,142.89 L603.35,142.89 L603.73,142.89 L604.12,142.89 L604.50,142.89 L604.88,142.89 L605.26,142.89 L605.65,142.89 L606.03,142.88 L606.41,142.88 L606.79,142.88 L607.17,142.88 L607.56,142.88 L607.94,142.88 L608.32,142.88 L608.70,142.88 L609.09,142.88 L609.47,142.88 L609.85,142.88 L610.23,142.88 L610.61,142.88 L611.00,142.88 L611.38,142.88 L611.76,142.88 L612.14,142.88 L612.53,142.88 L612.91,142.88 L613.29,142.88 L613.67,142.88 L614.06,142.87 L614.44,142.87 L614.82,142.87 L615.20,142.87 L615.58,142.87 L615.97,142.87 L616.35,142.87 L616.73,142.87 L617.11,142.87 L617.50,142.87 L617.88,142.87 L618.26,142.87 L618.64,142.87 L619.02,142.87 L619.41,142.87 L619.79,142.87 L620.17,142.87 L620.55,142.87 L620.94,142.87 L621.32,142.87 L621.70,142.87 L622.08,142.87 L622.46,142.87 L622.85,142.87 L623.23,142.87 L623.61,142.87 L623.99,142.87 L624.38,142.87 L624.76,142.87 L625.14,142.87 L625.52,142.87 L625.90,142.87 L626.29,142.87 L626.67,142.87 L627.05,142.87 L627.43,142.87 L627.82,142.87 L628.20,142.87 L628.58,142.87 L628.96,142.86 L629.34,142.86 L629.73,142.86 L630.11,142.86 L630.49,142.86 L630.87,142.86 L631.26,142.86 L631.64,142.86 L632.02,142.86 L632.40,142.86 L632.78,142.86 L633.17,142.86 L633.55,142.86 L633.93,142.86 L634.31,142.86 L634.70,142.86 L635.08,142.86 L635.46,142.86 L635.84,142.86 L636.22,142.86 L636.61,142.86 L636.99,142.86 L637.37,142.86 L637.75,142.86 L638.14,142.86 L638.52,142.86 L638.90,142.86 L640.43,142.86 L644.59,142.86 L648.75,142.86 L652.92,142.86 L657.08,142.86 L661.24,142.86 L665.41,142.86 L669.57,142.86 L673.73,142.86 L677.89,142.86 L682.06,142.86 L686.22,142.86 L690.38,142.86 L694.55,142.86 L698.71,142.86 L702.87,142.86 L707.03,142.86 L711.20,142.86 L715.36,142.86 L719.52,142.86 L723.68,142.86 L727.85,142.86 L732.01,142.86 L736.17,142.86 L740.34,142.86 L744.50,142.86 L748.66,142.86 L752.82,142.86 L756.99,142.86 L761.15,142.86 L765.31,142.86 L769.48,142.86 L773.64,142.86 L777.80,142.86 L781.96,142.86 L786.13,142.86 L790.29,142.86 L794.45,142.86 L798.61,142.86 L802.78,142.86 L806.94,142.86 L811.10,142.86 L815.27,142.86 L819.43,142.86 L823.59,142.86 L827.75,142.86 L831.92,142.86 L836.08,142.86 L840.24,142.86 L844.41,142.86 L848.57,142.86 L852.73,142.86 L856.89,142.86 L861.06,142.86 L865.22,142.86 L869.38,142.86 L873.54,142.86 L877.71,142.86 L881.87,142.86 L886.03,142.86 L890.20,142.86 L894.36,142.86 L898.52,142.86 L902.68,142.86 L906.85,142.86 L911.01,142.86 L915.17,142.86 L919.34,142.86 L923.50,142.86 L927.66,142.86 L931.82,142.86 L935.99,142.86 L940.15,142.86 L944.31,142.86 L948.47,142.86 L952.64,142.86 L956.80,142.86 L960.96,142.86 L965.13,142.86 L969.29,142.86 L973.45,142.86 L977.61,142.86 L981.78,142.86 L985.94,142.86 L990.10,142.86 L994.27,142.86 L998.43,142.86 L1002.59,142.86 L1006.75,142.86 L1010.92,142.86 L1015.08,142.86 L1019.24,142.86 L1023.40,142.86 L1027.57,142.86 L1031.73,142.86 L1035.89,142.86 L1040.06,142.86 L1044.22,142.86 L1048.38,142.86 L1052.54,142.86 L1056.71,142.86 L1060.87,142.86 L1065.03,142.86 L1069.20,142.86 L1073.36,142.86 L1077.52,142.86 L1081.68,142.86 L1085.85,142.86 L1090.01,142.86 L1094.17,142.86 L1098.33,142.86 L1102.50,142.86 L1106.66,142.86 L1110.82,142.86 L1114.99,142.86 L1119.15,142.86 L1123.31,142.86 L1127.47,142.86 L1131.64,142.86 L1135.80,142.86" stroke="#2ca02c" stroke-width="5.60" stroke-linecap="square"/>
<path d="M371.34,848.00 L371.34,107.60" stroke="#000" stroke-width="4.20" stroke-dasharray="15.53 6.72"/>
</g>
<rect x="142.00" y="107.60" width="993.80" height="740.40" fill="none" stroke="#000" stroke-width="2.24"/>
<path d="M218.45,848.00 v9.80 M371.34,848.00 v9.80 M524.23,848.00 v9.80 M677.12,848.00 v9.80 M830.02,848.00 v9.80 M982.91,848.00 v9.80 M1135.80,848.00 v9.80 M142.00,848.00 h-9.80 M142.00,706.97 h-9.80 M142.00,565.94 h-9.80 M142.00,424.91 h-9.80 M142.00,283.89 h-9.80 M142.00,142.86 h-9.80 M416.40,107.60 v-9.80 M715.50,107.60 v-9.80 M1014.40,107.60 v-9.80" stroke="#000" stroke-width="2.24" fill="none"/>
<g font-size="39.18">
<text x="218.45" y="897.90" text-anchor="middle">2000</text>
<text x="371.34" y="897.90" text-anchor="middle">4000</text>
<text x="524.23" y="897.90" text-anchor="middle">6000</text>
<text x="677.12" y="897.90" text-anchor="middle">8000</text>
<text x="830.02" y="897.90" text-anchor="middle">10000</text>
<text x="982.91" y="897.90" text-anchor="middle">12000</text>
<text x="1135.80" y="897.90" text-anchor="middle">14000</text>
<text x="122.56" y="863.20" text-anchor="end">0.0</text>
<text x="122.56" y="722.17" text-anchor="end">0.2</text>
<text x="122.56" y="581.14" text-anchor="end">0.4</text>
<text x="122.56" y="440.11" text-anchor="end">0.6</text>
<text x="122.56" y="299.09" text-anchor="end">0.8</text>
<text x="122.56" y="158.06" text-anchor="end">1.0</text>
<text x="416.40" y="80.70" text-anchor="middle">1</text>
<text x="715.50" y="80.70" text-anchor="middle">2</text>
<text x="1014.40" y="80.70" text-anchor="middle">3</text>
<text x="638.90" y="946.70" text-anchor="middle">T [K]</text>
<text x="638.90" y="39.60" text-anchor="middle">T [eV]</text>
<text transform="translate(41.60,478.00) rotate(-90)" text-anchor="middle" font-size="38.98">Ionisation fraction</text>
</g>
<path d="M700.64,485.30 H1108.26 Q1116.10,485.30 1116.10,493.14 V820.46 Q1116.10,828.30 1108.26,828.30 H700.64 Q692.80,828.30 692.80,820.46 V493.14 Q692.80,485.30 700.64,485.30 Z" fill="#fff" fill-opacity="0.8" stroke="#ccc" stroke-opacity="0.7" stroke-width="2.3"/>
<g font-size="39.18">
<text x="708.4" y="530.3">Y (Z = 39)</text>
<text x="708.4" y="573.0" xml:space="preserve"> n<tspan font-size="27.43" font-style="italic" dy="6.0">e</tspan><tspan dy="-6.0"> = 1.00e+13 m⁻³</tspan></text>
<path d="M730.4,618.60 H808.2" stroke="#1f77b4" stroke-width="5.60" stroke-linecap="square" fill="none"/>
<path d="M730.4,676.00 H808.2" stroke="#ff7f0e" stroke-width="5.60" stroke-linecap="square" fill="none"/>
<path d="M730.4,733.30 H808.2" stroke="#2ca02c" stroke-width="5.60" stroke-linecap="square" fill="none"/>
<path d="M730.4,791.10 H808.2" stroke="#000" stroke-width="4.20" stroke-dasharray="15.53 6.72" fill="none"/>
<text x="839.3" y="632.90">Y I</text>
<text x="839.3" y="690.20">Y II</text>
<text x="839.3" y="746.80">Y III</text>
<text x="839.3" y="804.00" xml:space="preserve">T<tspan font-size="27.43" font-style="italic" dy="6.0">e</tspan><tspan dy="-6.0" dx="9.04">=</tspan><tspan dx="6.64"> 4000 K</tspan></text>
</g>
</svg></body></html>
